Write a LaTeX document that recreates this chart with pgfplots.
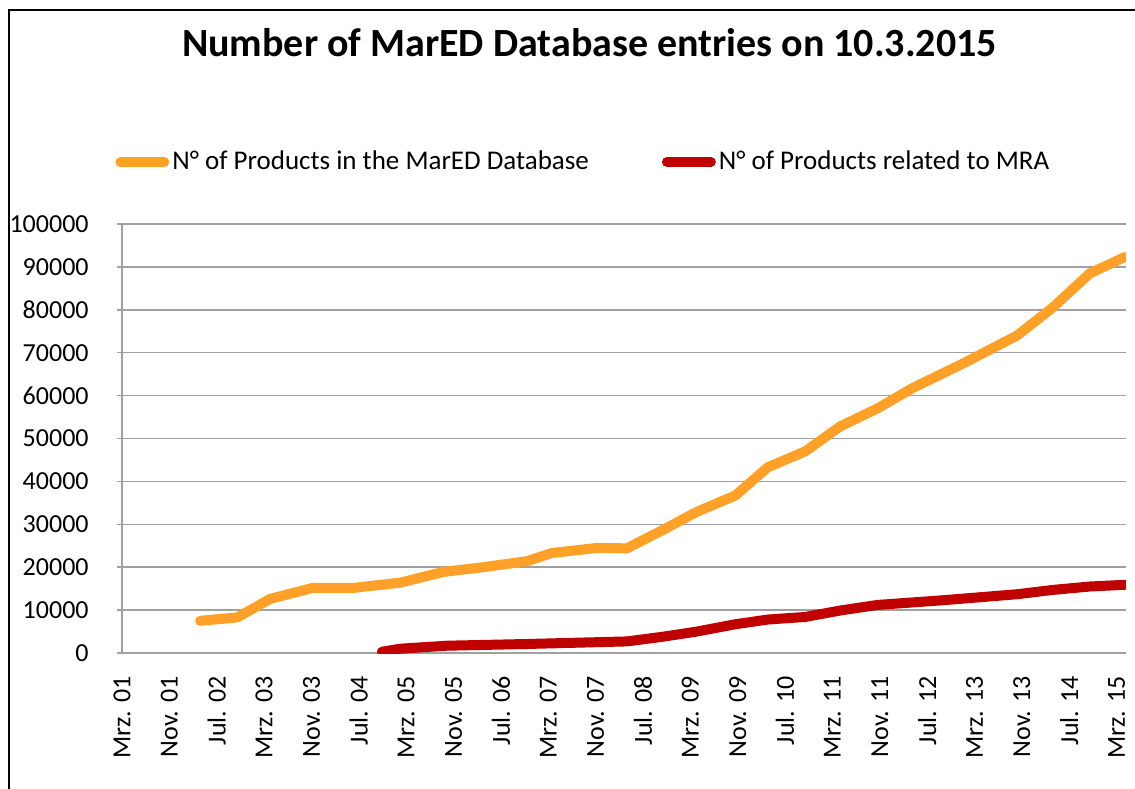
\documentclass[border=0pt]{standalone}
\usepackage{fontspec}
\setmainfont{Carlito}
\usepackage{pgfplots}
\pgfplotsset{compat=1.18}
\definecolor{cOrange}{RGB}{255,160,40}
\definecolor{cRed}{RGB}{192,0,0}
\definecolor{cGrid}{RGB}{160,160,160}

\begin{document}
\begin{tikzpicture}
\useasboundingbox (0,0) rectangle (567.5pt,394pt);
\draw[line width=1pt] (4.5pt,-5pt) -- (4.5pt,389pt) -- (580pt,389pt);
\begin{axis}[
  at={(61pt,67.5pt)}, anchor=south west,
  scale only axis, width=502pt, height=214.5pt,
  xmin=0, xmax=169.6, ymin=0, ymax=100000,
  axis lines*=left,
  axis line style={cGrid, line width=0.75pt},
  ymajorgrids, grid style={cGrid, line width=0.75pt},
  ytick={0,10000,...,100000},
  xtick={0,8,...,168},
  xticklabels={Mrz. 01, Nov. 01, Jul. 02, Mrz. 03, Nov. 03, Jul. 04, Mrz. 05, Nov. 05, Jul. 06, Mrz. 07, Nov. 07, Jul. 08, Mrz. 09, Nov. 09, Jul. 10, Mrz. 11, Nov. 11, Jul. 12, Mrz. 13, Nov. 13, Jul. 14, Mrz. 15},
  xtick style={draw=none},
  ytick style={cGrid, line width=0.75pt},
  tick align=outside, major tick length=2.5pt,
  ytick pos=left,
  scaled y ticks=false,
  /pgf/number format/.cd, fixed, 1000 sep={}, assume math mode=true,
  /pgfplots/.cd,
  tick label style={font=\fontsize{13}{15}\selectfont, black, inner sep=0pt},
  yticklabel style={anchor=east, xshift=-14pt},
  xticklabel style={rotate=90, anchor=east, xshift=-9pt},
  title={\fontsize{20}{24}\selectfont\bfseries Number of MarED Database entries on 10.3.2015},
  title style={at={(axis description cs:0.4656,1.394)}, anchor=center},
  legend columns=2,
  legend style={at={(axis description cs:-0.007,1.1445)}, anchor=west, draw=none, fill=none,
    font=\fontsize{13.5}{16}\selectfont, inner sep=0pt, nodes={inner xsep=1.5pt},
    /tikz/every even column/.append style={column sep=35pt}},
  legend image code/.code={\draw[#1, line cap=round] (0pt,0pt) -- (22pt,0pt);},
  legend cell align=left,
]
\addplot[cOrange, line width=5pt, line join=round, line cap=round] coordinates {
(13.2,7500) (19.5,8300) (25.0,12600) (32.3,15200) (39.3,15200) (47.0,16400)
(54.3,18900) (60.5,19900) (68.4,21400) (72.6,23300) (80.3,24500) (85.3,24400)
(91.4,28700) (97.1,32900) (103.6,36700) (109.1,43300) (115.4,47000)
(121.3,52800) (127.6,57000) (133.6,61800) (142.1,67500) (151.2,74000)
(157.2,80500) (163.5,88500) (169.4,92300)};
\addlegendentry{N° of Products in the MarED Database}
\addplot[cRed, line width=5pt, line join=round, line cap=round] coordinates {
(43.9,300) (47.0,1000) (54.9,1700) (68.4,2100) (85.3,2700) (91.4,3800)
(97.1,5000) (103.6,6700) (109.1,7800) (115.4,8400) (121.3,9900)
(127.6,11200) (138.7,12300) (151.2,13700) (157.2,14700) (163.5,15500) (169.4,15900)};
\addlegendentry{N° of Products related to MRA}
\end{axis}
\end{tikzpicture}
\end{document}
